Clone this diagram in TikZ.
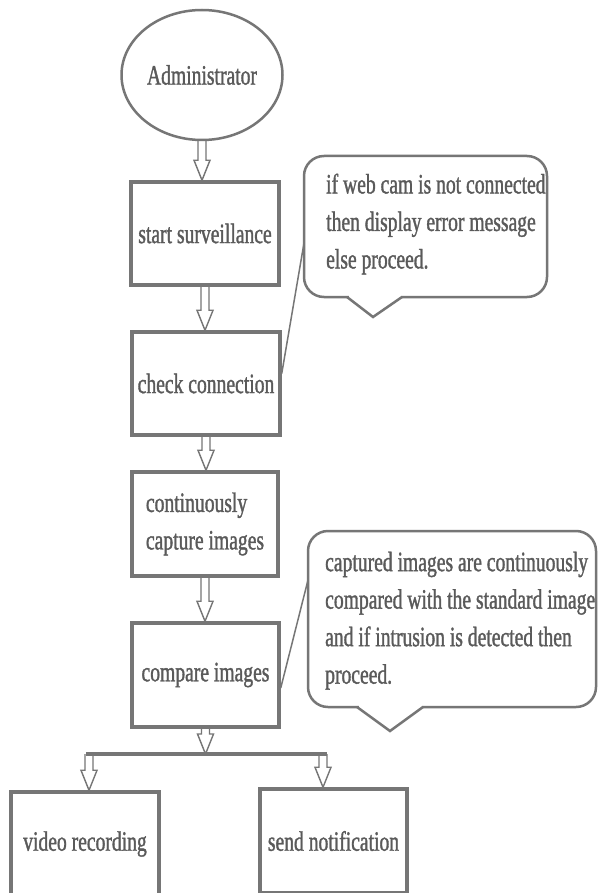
\documentclass[tikz,border=0pt]{standalone}
\usepackage{fontspec}
\setmainfont{Liberation Serif}[FakeStretch=0.70,FakeBold=1.2]
\usetikzlibrary{calc,shapes.geometric}
\definecolor{linec}{HTML}{767676}
\definecolor{txtc}{HTML}{5A5A5A}
\newcommand\bigfs{\fontsize{28}{37.5}\selectfont}
\tikzset{
  boxst/.style={draw=linec, line width=3.5pt, rectangle, text=txtc, font=\bigfs, align=center, inner sep=0pt},
  calloutst/.style={draw=linec, line width=2.5pt},
  calltext/.style={text=txtc, font=\bigfs, align=left, inner sep=0pt, anchor=north west},
  pointer/.style={draw=linec, line width=1.5pt},
  harrow/.style={draw=linec, line width=1.4pt, line join=miter,
    to path={let \p1=(\tikztostart), \p2=(\tikztotarget) in
      (\x1-4pt,\y1) -- (\x1-4pt,\y2+20pt) -- (\x1-8pt,\y2+20pt) -- (\x1,\y2)
      -- (\x1+8pt,\y2+20pt) -- (\x1+4pt,\y2+20pt) -- (\x1+4pt,\y1)}}
}
\begin{document}
\begin{tikzpicture}[x=1pt,y=-1pt]
\useasboundingbox (0,0) rectangle (598,893);
\fill[white] (0,0) rectangle (598,893);

\node[ellipse, draw=linec, line width=2.5pt, minimum width=161pt, minimum height=130pt, text=txtc, font=\bigfs, inner sep=0pt] (adm) at (202,75) {Administrator};

\node[boxst, minimum width=148pt, minimum height=103pt] (s1) at (205,233.5) {start surveillance};
\node[boxst, minimum width=148pt, minimum height=103pt] (s2) at (206,383.5) {check connection};
\node[boxst, minimum width=146pt, minimum height=104pt, align=left] (s3) at (205,524) {continuously\\capture images};
\node[boxst, minimum width=147pt, minimum height=104pt] (s4) at (205.5,675) {compare images};
\node[boxst, minimum width=148pt, minimum height=104pt] (s5) at (85,844) {video recording};
\node[boxst, minimum width=147pt, minimum height=104pt] (s6) at (333.5,841) {send notification};

\coordinate (jm) at (205,754);
\coordinate (jl) at (86,754);
\coordinate (jr) at (327,754);
\coordinate (bl) at (89,754);
\coordinate (br) at (323,754);

\draw[harrow] (adm.south) to (s1.north);
\draw[harrow] (s1.south) to (s2.north);
\draw[harrow] (s2.south) to (s3.north);
\draw[harrow] (s3.south) to (s4.north);
\draw[harrow] (s4.south) to (jm);
\draw[linec, line width=3.5pt] (jl) -- (jr);
\draw[harrow] (bl) to (s5.north);
\draw[harrow] (br) to (s6.north);

% callout 1
\draw[calloutst, rounded corners=20pt] (304,156) rectangle (547,297);
\fill[white] (348.5,293) rectangle (400.5,301);
\draw[calloutst, line join=miter] (347,297) -- (373,317) -- (402,297);
\node[calltext] (c1) at (326,173.5) {if web cam is not connected\\then display error message\\else proceed.};
\coordinate (c1p) at (304,243);
\draw[pointer] (c1p) -- ($(s2.east)+(0,-10)$);

% callout 2
\draw[calloutst, rounded corners=20pt] (308,531) rectangle (596,707);
\fill[white] (358.5,703) rectangle (421.5,711);
\draw[calloutst, line join=miter] (357,707) -- (390,731) -- (423,707);
\node[calltext] (c2) at (325,551.5) {captured images are continuously\\compared with the standard image\\and if intrusion is detected then\\proceed.};
\coordinate (c2p) at (308,580);
\draw[pointer] (c2p) -- ($(s4.east)+(0,13)$);
\end{tikzpicture}
\end{document}
